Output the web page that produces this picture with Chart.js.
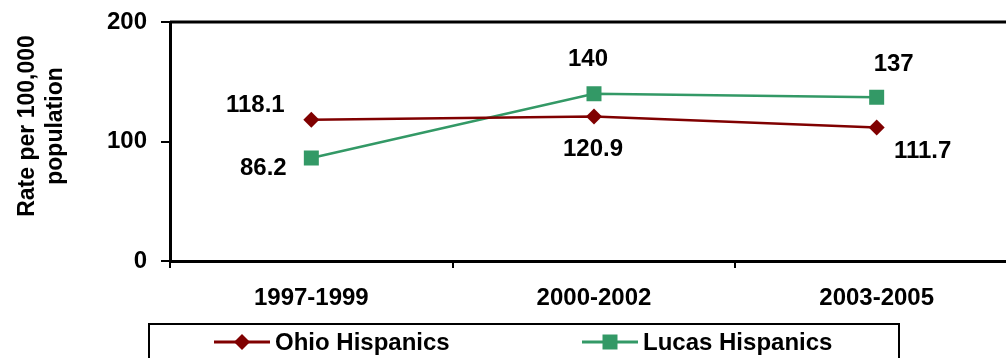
<!DOCTYPE html>
<html>
<head>
<meta charset="utf-8">
<script src="https://cdn.jsdelivr.net/npm/chart.js@4/dist/chart.umd.min.js"></script>
<style>
  html, body { margin: 0; padding: 0; background: #fff; overflow: hidden; }
  canvas { display: block; }
</style>
</head>
<body>
<canvas id="chart" width="1020" height="358"></canvas>
<script>
const periods = ['1997-1999', '2000-2002', '2003-2005'];
const ohioRates = [118.1, 120.9, 111.7];
const lucasRates = [86.2, 140, 137];
const yTicks = [0, 100, 200];
const yTitle = ['Rate per 100,000', 'population'];

(function () {
  const FONT = '"Liberation Sans", Arial, sans-serif';
  const OHIO = '#800000';
  const LUCAS = '#339966';

  const drawMarker = function (ctx, style, x, y, r, color) {
    ctx.save();
    ctx.fillStyle = color;
    ctx.beginPath();
    if (style === 'rectRot') {
      ctx.moveTo(x, y - r);
      ctx.lineTo(x + r, y);
      ctx.lineTo(x, y + r);
      ctx.lineTo(x - r, y);
      ctx.closePath();
    } else {
      const s = r * Math.SQRT1_2;
      ctx.rect(x - s, y - s, s * 2, s * 2);
    }
    ctx.fill();
    ctx.restore();
  };

  // value labels next to each point
  const valueLabels = {
    id: 'valueLabels',
    afterDatasetsDraw: function (chart) {
      const ctx = chart.ctx;
      ctx.save();
      ctx.font = 'bold 24px ' + FONT;
      ctx.fillStyle = '#000';
      ctx.textAlign = 'center';
      ctx.textBaseline = 'middle';
      chart.data.datasets.forEach(function (ds, i) {
        chart.getDatasetMeta(i).data.forEach(function (pt, j) {
          const off = ds.labelOffsets[j];
          ctx.fillText(String(ds.data[j]), pt.x + off[0], pt.y + off[1]);
        });
      });
      ctx.restore();
    }
  };

  // top frame line, axis title and boxed legend
  const frame = {
    id: 'frame',
    afterDraw: function (chart) {
      const ctx = chart.ctx;
      const area = chart.chartArea;
      ctx.save();
      ctx.strokeStyle = '#000';
      ctx.lineWidth = 3;
      ctx.beginPath();
      ctx.moveTo(area.left, area.top);
      ctx.lineTo(area.right, area.top);
      ctx.stroke();

      ctx.font = 'bold 23px ' + FONT;
      ctx.fillStyle = '#000';
      ctx.textAlign = 'center';
      ctx.textBaseline = 'middle';
      yTitle.forEach(function (line, i) {
        ctx.save();
        ctx.translate(28 + i * 28, 126);
        ctx.rotate(-Math.PI / 2);
        ctx.fillText(line, 0, 0);
        ctx.restore();
      });

      ctx.lineWidth = 2;
      ctx.strokeRect(149, 324, 750, 40);

      const itemX = [214, 582];
      const ly = 342;
      ctx.font = 'bold 24px ' + FONT;
      ctx.textAlign = 'left';
      chart.data.datasets.forEach(function (ds, i) {
        const x = itemX[i];
        ctx.strokeStyle = ds.borderColor;
        ctx.lineWidth = 3;
        ctx.beginPath();
        ctx.moveTo(x, ly);
        ctx.lineTo(x + 56, ly);
        ctx.stroke();
        drawMarker(ctx, ds.pointStyle, x + 28, ly, ds.pointRadius, ds.borderColor);
        ctx.fillStyle = '#000';
        ctx.fillText(ds.label, x + 61, ly + 1);
      });
      ctx.restore();
    }
  };

  new Chart(document.getElementById('chart'), {
    type: 'line',
    data: {
      labels: periods,
      datasets: [{
        label: 'Ohio Hispanics',
        data: ohioRates,
        borderColor: OHIO,
        backgroundColor: OHIO,
        borderWidth: 2.5,
        pointStyle: 'rectRot',
        pointRadius: 8,
        pointHoverRadius: 8,
        pointBorderWidth: 0,
        labelOffsets: [[-56, -14], [-1, 33], [46, 24]]
      }, {
        label: 'Lucas Hispanics',
        data: lucasRates,
        borderColor: LUCAS,
        backgroundColor: LUCAS,
        borderWidth: 2.5,
        pointStyle: 'rect',
        pointRadius: 10.6,
        pointHoverRadius: 10.6,
        pointBorderWidth: 0,
        labelOffsets: [[-48, 10], [-6, -34], [17, -33]]
      }]
    },
    options: {
      responsive: false,
      animation: false,
      layout: { autoPadding: false, padding: { top: 22, right: 2, left: 0, bottom: 0 } },
      plugins: {
        legend: { display: false },
        tooltip: { enabled: false }
      },
      scales: {
        x: {
          type: 'category',
          offset: true,
          afterFit: function (scale) {
            scale.height = 97;
            scale.paddingLeft = 0;
            scale.paddingRight = 0;
          },
          grid: { offset: true, drawOnChartArea: false, drawTicks: true, tickLength: 7, color: '#000', lineWidth: 2 },
          border: { color: '#000', width: 3 },
          ticks: { color: '#000', padding: 16, font: { family: FONT, size: 24, weight: 'bold' } }
        },
        y: {
          min: yTicks[0],
          max: yTicks[yTicks.length - 1],
          afterFit: function (scale) {
            scale.width = 170;
            scale.paddingTop = 0;
            scale.paddingBottom = 0;
          },
          afterBuildTicks: function (scale) {
            scale.ticks = yTicks.map(function (v) { return { value: v }; });
          },
          grid: { drawOnChartArea: false, drawTicks: true, tickLength: 9, color: '#000', lineWidth: 2 },
          border: { color: '#000', width: 3 },
          ticks: { color: '#000', padding: 14, font: { family: FONT, size: 24, weight: 'bold' } }
        }
      }
    },
    plugins: [valueLabels, frame]
  });
})();
</script>
</body>
</html>
